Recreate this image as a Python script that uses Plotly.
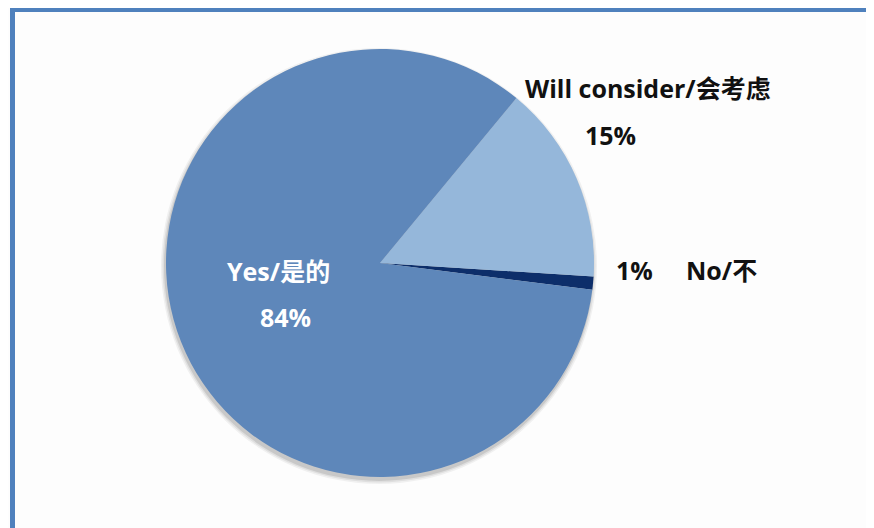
import plotly.graph_objects as go

# Data
categories = ["No/不", "Will consider/会考虑", "Yes/是的"]
values = [1, 15, 84]
pct_labels = ["1%", "15%", "84%"]
colors = ["#0d2e6a", "#95b7da", "#5e87ba"]

# page body has an 8px margin; figure sized to fit the window
OFF = 8
W, H = 874 - OFF, 528 - OFF
cx, cy, r = 380, 263, 214  # reference pixel geometry


def px(x):
    return (x - OFF) / W


def py(y):
    return 1 - (y - OFF) / H


FONT = "Open Sans, Noto Sans CJK SC, sans-serif"

fig = go.Figure()

# soft drop shadow under the pie (styling only)
for grow, alpha in [(4, 0.05), (2.5, 0.07), (1, 0.10)]:
    fig.add_trace(
        go.Pie(
            values=[sum(values)],
            marker=dict(colors=[f"rgba(0,0,0,{alpha})"], line=dict(width=0)),
            textinfo="none",
            hoverinfo="skip",
            showlegend=False,
            sort=False,
            domain=dict(
                x=[px(cx - 1 - r - grow), px(cx - 1 + r + grow)],
                y=[py(cy + 3 + r + grow), py(cy + 3 - r - grow)],
            ),
        )
    )

fig.add_trace(
    go.Pie(
        labels=categories,
        values=values,
        marker=dict(colors=colors, line=dict(width=0)),
        sort=False,
        direction="counterclockwise",
        rotation=93.6,
        textinfo="none",
        hoverinfo="label+percent",
        showlegend=False,
        domain=dict(x=[px(cx - r), px(cx + r)], y=[py(cy + r), py(cy - r)]),
    )
)

FS = 25
annotations = [
    # No
    dict(x=px(634), y=py(270), text=pct_labels[0], font=dict(size=FS, color="#111111", family=FONT)),
    dict(x=px(721), y=py(270), text=categories[0], font=dict(size=FS, color="#111111", family=FONT)),
    # Will consider
    dict(x=px(648), y=py(88), text=categories[1], font=dict(size=FS, color="#111111", family=FONT)),
    dict(x=px(610), y=py(135), text=pct_labels[1], font=dict(size=FS, color="#111111", family=FONT)),
    # Yes
    dict(x=px(278), y=py(271), text=categories[2], font=dict(size=FS, color="#ffffff", family=FONT)),
    dict(x=px(285), y=py(317), text=pct_labels[2], font=dict(size=FS, color="#ffffff", family=FONT)),
]
for a in annotations:
    a.update(xref="paper", yref="paper", showarrow=False, xanchor="center", yanchor="middle")
    a["text"] = "<b>" + a["text"] + "</b>"

shapes = [
    dict(type="line", xref="paper", yref="paper", x0=px(10), x1=1.0, y0=py(9.5), y1=py(9.5),
         line=dict(color="#4f81bd", width=5)),
    dict(type="line", xref="paper", yref="paper", x0=px(12.5), x1=px(12.5), y0=py(7), y1=0,
         line=dict(color="#4f81bd", width=5)),
]

fig.update_layout(
    width=W,
    height=H,
    margin=dict(l=0, r=0, t=0, b=0),
    paper_bgcolor="#fdfdfd",
    plot_bgcolor="#fdfdfd",
    annotations=annotations,
    shapes=shapes,
)

fig.write_html("out.html")
